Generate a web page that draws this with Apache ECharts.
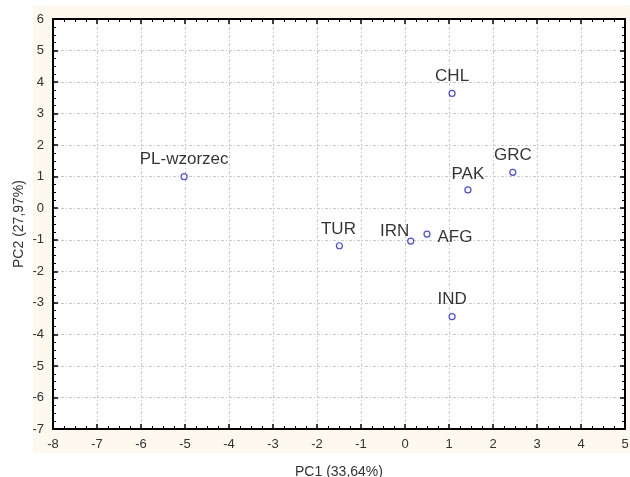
<!DOCTYPE html>
<html>
<head>
<meta charset="utf-8">
<script src="https://cdn.jsdelivr.net/npm/echarts@6/dist/echarts.min.js"></script>
<style>
  html, body { margin: 0; padding: 0; background: #fff; }
  #chart { width: 630px; height: 477px; }
</style>
</head>
<body>
<div id="chart"></div>
<script>
// PCA scores
const names = ['PL-wzorzec', 'TUR', 'IRN', 'AFG', 'CHL', 'PAK', 'GRC', 'IND'];
const pc1 = [-5.02, -1.49, 0.13, 0.50, 1.07, 1.43, 2.45, 1.07];
const pc2 = [1.00, -1.19, -1.04, -0.82, 3.64, 0.58, 1.14, -3.44];

const xTitle = 'PC1 (33,64%)';
const yTitle = 'PC2 (27,97%)';

// label offsets (px) from each point
const labelOffset = {
  'PL-wzorzec': [0, -17],
  'TUR': [-1, -16],
  'IRN': [-16, -10],
  'AFG': [28, 3],
  'CHL': [0, -17],
  'PAK': [0, -16],
  'GRC': [0, -17],
  'IND': [0, -17]
};

const chart = echarts.init(document.getElementById('chart'));

const gridLine = { show: true, lineStyle: { color: '#c8c8c8', type: [3, 2, 1, 2], width: 1 } };
const frameLine = { show: true, onZero: false, lineStyle: { color: '#000', width: 2 } };
const tickIn = { show: true, inside: true, length: 5, lineStyle: { color: '#000', width: 1.5 } };
const minorIn = { show: true, splitNumber: 4, length: 3, lineStyle: { color: '#000', width: 1 } };
const tickFont = { color: '#333', fontSize: 13, fontFamily: 'Liberation Sans, Arial, sans-serif' };

const option = {
  animation: false,
  backgroundColor: '#fff',
  graphic: [{
    type: 'rect', z: -10, silent: true,
    shape: { x: 33, y: 5, width: 597, height: 448 },
    style: { fill: '#fef9ef' }
  }, {
    type: 'rect', z: -9, silent: true,
    shape: { x: 53, y: 19, width: 572, height: 410 },
    style: { fill: '#fff' }
  }],
  grid: { left: 53, right: 5, top: 19, bottom: 48, containLabel: false, outerBoundsMode: 'none' },
  xAxis: [{
    type: 'value', min: -8, max: 5, interval: 1,
    name: xTitle, nameLocation: 'middle', nameGap: 36,
    nameTextStyle: { color: '#333', fontSize: 14, fontFamily: 'Liberation Sans, Arial, sans-serif' },
    axisLine: frameLine, axisTick: tickIn, minorTick: minorIn,
    splitLine: gridLine,
    axisLabel: Object.assign({ margin: 9 }, tickFont)
  }, {
    type: 'value', min: -8, max: 5, interval: 1, position: 'top',
    axisLine: frameLine, axisTick: tickIn, minorTick: minorIn,
    splitLine: { show: false }, axisLabel: { show: false }
  }],
  yAxis: [{
    type: 'value', min: -7, max: 6, interval: 1,
    name: yTitle, nameLocation: 'middle', nameGap: 27, nameMoveOverlap: false,
    nameTextStyle: { color: '#333', fontSize: 14, fontFamily: 'Liberation Sans, Arial, sans-serif' },
    axisLine: frameLine, axisTick: tickIn, minorTick: minorIn,
    splitLine: gridLine,
    axisLabel: Object.assign({ margin: 9 }, tickFont)
  }, {
    type: 'value', min: -7, max: 6, interval: 1, position: 'right',
    axisLine: frameLine, axisTick: tickIn, minorTick: minorIn,
    splitLine: { show: false }, axisLabel: { show: false }
  }],
  series: [{
    type: 'scatter',
    symbol: 'circle', symbolSize: 6,
    itemStyle: { color: '#fff', borderColor: '#1a1aff', borderWidth: 1.2 },
    data: names.map((n, i) => ({
      name: n,
      value: [pc1[i], pc2[i]],
      label: {
        show: true, position: 'inside', offset: labelOffset[n],
        formatter: n, color: '#000', fontSize: 17,
        textBorderWidth: 0,
        fontFamily: 'Liberation Sans, Arial, sans-serif'
      }
    }))
  }]
};

chart.setOption(option);
</script>
</body>
</html>
